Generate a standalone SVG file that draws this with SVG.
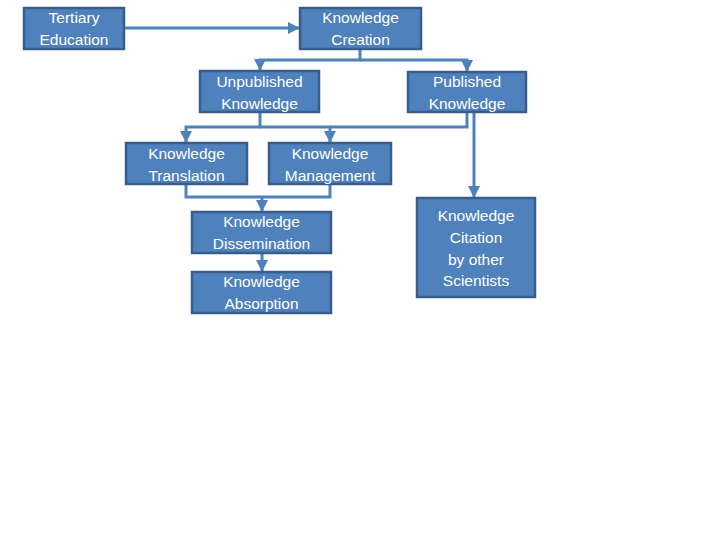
<svg xmlns="http://www.w3.org/2000/svg" width="720" height="540" viewBox="0 0 720 540">
<style>
.box{fill:#4F81BD;stroke:#385D8A;stroke-width:2.5}
.lbl{fill:#FFFFFF;font-family:"Liberation Sans",Arial,sans-serif;font-size:15.5px;text-anchor:middle}
.con{fill:none;stroke:#4F81BD;stroke-width:3}
</style>
<defs>
<marker id="arr" markerUnits="userSpaceOnUse" markerWidth="12" markerHeight="12" viewBox="0 0 12 12" refX="11" refY="6" orient="auto">
<path d="M0,0 L12,6 L0,12 Z" fill="#4F81BD"/>
</marker>
</defs>
<rect width="720" height="540" fill="#FFFFFF"/>
<g id="connectors">
<path class="con" d="M124,28 H299" marker-end="url(#arr)"/>
<path class="con" d="M360,49 V60 H260 V70" marker-end="url(#arr)"/>
<path class="con" d="M360,60 H467 V71" marker-end="url(#arr)"/>
<path class="con" d="M260,112 V127 H186 V142" marker-end="url(#arr)"/>
<path class="con" d="M260,127 H330 V142" marker-end="url(#arr)"/>
<path class="con" d="M330,127 H467 V112"/>
<path class="con" d="M474,112 V197" marker-end="url(#arr)"/>
<path class="con" d="M186,184 V197 H330 V184"/>
<path class="con" d="M262,197 V211" marker-end="url(#arr)"/>
<path class="con" d="M262,253 V271" marker-end="url(#arr)"/>
</g>
<g id="tertiary">
<rect class="box" x="24" y="8" width="100" height="41"/>
<text class="lbl" x="74" y="23">Tertiary</text>
<text class="lbl" x="74" y="45">Education</text>
</g>
<g id="creation">
<rect class="box" x="300" y="8" width="121" height="41"/>
<text class="lbl" x="360.5" y="23">Knowledge</text>
<text class="lbl" x="360.5" y="45">Creation</text>
</g>
<g id="unpublished">
<rect class="box" x="200" y="71" width="119" height="41"/>
<text class="lbl" x="259.5" y="87">Unpublished</text>
<text class="lbl" x="259.5" y="109">Knowledge</text>
</g>
<g id="published">
<rect class="box" x="408" y="72" width="118" height="40"/>
<text class="lbl" x="467" y="87">Published</text>
<text class="lbl" x="467" y="109">Knowledge</text>
</g>
<g id="translation">
<rect class="box" x="126" y="143" width="121" height="41"/>
<text class="lbl" x="186.5" y="159">Knowledge</text>
<text class="lbl" x="186.5" y="181">Translation</text>
</g>
<g id="management">
<rect class="box" x="269" y="143" width="122" height="41"/>
<text class="lbl" x="330" y="159">Knowledge</text>
<text class="lbl" x="330" y="181">Management</text>
</g>
<g id="dissemination">
<rect class="box" x="192" y="212" width="139" height="41"/>
<text class="lbl" x="261.5" y="227">Knowledge</text>
<text class="lbl" x="261.5" y="249">Dissemination</text>
</g>
<g id="absorption">
<rect class="box" x="192" y="272" width="139" height="41"/>
<text class="lbl" x="261.5" y="287">Knowledge</text>
<text class="lbl" x="261.5" y="309">Absorption</text>
</g>
<g id="citation">
<rect class="box" x="417" y="198" width="118" height="99"/>
<text class="lbl" x="476" y="221">Knowledge</text>
<text class="lbl" x="476" y="243">Citation</text>
<text class="lbl" x="476" y="265">by other</text>
<text class="lbl" x="476" y="286">Scientists</text>
</g>
</svg>
